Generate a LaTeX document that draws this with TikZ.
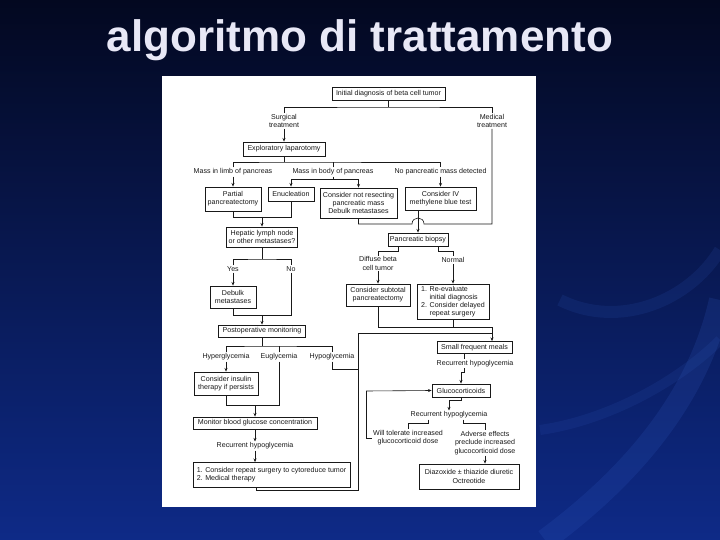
\documentclass[tikz,border=0pt]{standalone}
\usepackage{fontspec}
\setmainfont{Liberation Sans}
\usetikzlibrary{arrows.meta,calc}
\definecolor{bgtop}{RGB}{3,8,32}
\definecolor{bgbot}{RGB}{14,42,135}
\definecolor{swoosh}{RGB}{55,100,205}
\definecolor{ink}{RGB}{25,25,25}
\definecolor{titlec}{RGB}{232,232,246}
\newcommand\smalltxt{\fontsize{7.1}{8.2}\selectfont}
\begin{document}
\begin{tikzpicture}[x=1pt,y=-1pt,
  box/.style={draw=ink, line width=0.8pt, fill=white, font=\smalltxt, text=ink, align=center, inner sep=1pt},
  lbl/.style={font=\smalltxt, text=ink, align=center, inner sep=1pt},
  ln/.style={draw=ink, line width=0.6pt},
  arr/.style={ln, -{Stealth[length=3.6pt,width=3pt]}}]
\useasboundingbox (0,0) rectangle (720,540);
% background
\shade[top color=bgtop, bottom color=bgbot] (0,0) rectangle (720,540);
\draw[swoosh, line width=22pt, opacity=0.16] (545,540) .. controls (640,470) and (700,390) .. (720,300);
\draw[swoosh, line width=12pt, opacity=0.13] (560,300) .. controls (620,330) and (690,300) .. (720,250);
\draw[swoosh, line width=10pt, opacity=0.12] (540,430) .. controls (610,420) and (680,380) .. (720,340);
% title
\node[font=\fontsize{44}{50}\selectfont\bfseries, text=titlec, anchor=base, inner sep=0pt] (title) at (360,52) {algoritmo di trattamento};
% panel
\fill[white] (162,76) rectangle (536,507);

% boxes
\node[box, minimum width=113pt, minimum height=13pt] (init) at (388.5,93.5) {Initial diagnosis of beta cell tumor};
\node[box, minimum width=82pt, minimum height=14pt] (expl) at (284,149) {Exploratory laparotomy};
\node[box, minimum width=56pt, minimum height=24pt] (partial) at (233,199) {Partial\\pancreatectomy};
\node[box, minimum width=46pt, minimum height=14pt] (enuc) at (291,194) {Enucleation};
\node[box, minimum width=77pt, minimum height=30pt] (notres) at (358.5,203) {Consider not resecting\\pancreatic mass\\Debulk metastases};
\node[box, minimum width=71pt, minimum height=23pt] (ivtest) at (440.5,198.5) {Consider IV\\methylene blue test};
\node[box, minimum width=71pt, minimum height=20pt] (hepatic) at (262,237) {Hepatic lymph node\\or other metastases?};
\node[box, minimum width=60pt, minimum height=13pt] (biopsy) at (418,239.5) {Pancreatic biopsy};
\node[box, minimum width=46pt, minimum height=22pt] (debulk) at (233,297) {Debulk\\metastases};
\node[box, minimum width=64pt, minimum height=22pt] (subtotal) at (378,295) {Consider subtotal\\pancreatectomy};
\node[box, minimum width=72pt, minimum height=35pt, align=left] (reeval) at (453,301.5) {1. Re-evaluate\\\phantom{1. }initial diagnosis\\2. Consider delayed\\\phantom{1. }repeat surgery};
\node[box, minimum width=87pt, minimum height=12pt] (postop) at (262,331) {Postoperative monitoring};
\node[box, minimum width=75pt, minimum height=12pt] (meals) at (474.5,347.5) {Small frequent meals};
\node[box, minimum width=64pt, minimum height=23pt] (insulin) at (226,383.5) {Consider insulin\\therapy if persists};
\node[box, minimum width=58pt, minimum height=13pt] (gluco) at (461,390.5) {Glucocorticoids};
\node[box, minimum width=124pt, minimum height=12pt] (monitor) at (255,423) {Monitor blood glucose concentration};
\node[box, minimum width=157pt, minimum height=25pt, align=left] (final) at (271.5,475) {1. Consider repeat surgery to cytoreduce tumor\\2. Medical therapy};
\node[box, minimum width=100pt, minimum height=25pt] (diazox) at (469,476.5) {Diazoxide ± thiazide diuretic\\Octreotide};

% labels
\node[lbl] (surg) at (284,121) {Surgical\\treatment};
\node[lbl] (med) at (492,121) {Medical\\treatment};
\node[lbl] (limb) at (233,172) {Mass in limb of pancreas};
\node[lbl] (body) at (333,172) {Mass in body of pancreas};
\node[lbl] (nomass) at (440.5,172) {No pancreatic mass detected};
\node[lbl] (yes) at (233,269) {Yes};
\node[lbl] (no) at (291,269) {No};
\node[lbl] (diffuse) at (378,263.5) {Diffuse beta\\cell tumor};
\node[lbl] (normal) at (453,260) {Normal};
\node[lbl] (hyper) at (226,357) {Hyperglycemia};
\node[lbl] (eug) at (279,357) {Euglycemia};
\node[lbl] (hypo) at (332,357) {Hypoglycemia};
\node[lbl] (rec1) at (255,446) {Recurrent hypoglycemia};
\node[lbl] (rec2) at (475,363.5) {Recurrent hypoglycemia};
\node[lbl] (rec3) at (449,415) {Recurrent hypoglycemia};
\node[lbl] (will) at (408,438) {Will tolerate increased\\glucocorticoid dose};
\node[lbl] (adverse) at (485,443) {Adverse effects\\preclude increased\\glucocorticoid dose};

% junction coordinates
\coordinate (jt) at (388.5,107);
\coordinate (je) at (284,162);
\coordinate (jb) at (333,179);
\coordinate (jh) at (262,217);
\coordinate (jn) at (358.5,224);
\coordinate (jm) at (492,224);
\coordinate (jd1) at (398,251);
\coordinate (jd2) at (438,251);
\coordinate (jy) at (262,259);
\coordinate (jp) at (262,315);
\coordinate (jg) at (262,346);
\coordinate (jm2) at (255,405);
\coordinate (jf) at (256,490);
\coordinate (jl) at (358,333);
\coordinate (jr) at (492,333);
\coordinate (jhy) at (358,369);
\coordinate (js) at (492,327);
\coordinate (jq) at (464,372);
\coordinate (jw) at (366,391);
\coordinate (jr3) at (449,400);
\coordinate (ja) at (428,423);
\coordinate (jb2) at (463,423);

% connectors
\draw[ln] (init.south) -- (jt);
\draw[ln] (surg.north) |- (jt) -| (med.north);
\draw[arr] (surg.south) -- (expl.north);
\draw[ln] (expl.south) -- (je);
\draw[ln] (limb.north) |- (je) -| (nomass.north);
\draw[ln] (body.north) -- (body.north |- je);
\draw[arr] (limb.south) -- (partial.north);
\draw[ln] (body.south) -- (jb);
\draw[arr] (jb) -| (enuc.north);
\draw[arr] (jb) -| (notres.north);
\draw[arr] (nomass.south) -- (ivtest.north);
\draw[ln] (partial.south) |- (jh);
\draw[ln] (enuc.south) |- (jh);
\draw[arr] (jh) -- (hepatic.north);
\draw[ln] (notres.south) -- (jn) -- (412,224) .. controls (412,216) and (424,216) .. (424,224) -- (jm) -- (med.south);
\draw[arr] (ivtest.south -| biopsy.north) -- (biopsy.north);
\draw[ln] (biopsy.south -| jd1) -- (jd1) -| (diffuse.north);
\draw[ln] (biopsy.south -| jd2) -- (jd2) -| (normal.north);
\draw[arr] (diffuse.south) -- (subtotal.north);
\draw[arr] (normal.south) -- (reeval.north);
\draw[ln] (hepatic.south) -- (jy);
\draw[ln] (yes.north) |- (jy) -| (no.north);
\draw[arr] (yes.south) -- (debulk.north);
\draw[ln] (no.south) |- (jp);
\draw[ln] (debulk.south) |- (jp);
\draw[arr] (jp) -- (postop.north);
\draw[ln] (postop.south) -- (jg);
\draw[ln] (hyper.north) |- (jg) -| (hypo.north);
\draw[ln] (eug.north) -- (eug.north |- jg);
\draw[arr] (hyper.south) -- (insulin.north);
\draw[ln] (insulin.south) |- (jm2);
\draw[ln] (eug.south) |- (jm2);
\draw[arr] (jm2) -- (monitor.north);
\draw[arr] (monitor.south) -- (rec1.north);
\draw[arr] (rec1.south) -- (rec1.south |- final.north);
\draw[ln] (final.south -| jf) -- (jf) -| (jl) -- (jr);
\draw[ln] (hypo.south) |- (jhy);
\draw[ln] (subtotal.south) |- (js);
\draw[ln] (reeval.south) -- (reeval.south |- js);
\draw[arr] (js) -- (js |- meals.north);
\draw[ln] (meals.south -| jq) -- (rec2.north -| jq);
\draw[arr] (rec2.south -| jq) -- (jq) -| (gluco.north);
\draw[arr] (jw) -- (gluco.west);
\draw[ln] (jw) |- (will.west);
\draw[arr] (gluco.south) |- (jr3) -- (rec3.north);
\draw[ln] (rec3.south -| ja) -- (ja) -| (will.north);
\draw[ln] (rec3.south -| jb2) -- (jb2) -| (adverse.north);
\draw[arr] (adverse.south) -- (adverse.south |- diazox.north);
\end{tikzpicture}
\end{document}
